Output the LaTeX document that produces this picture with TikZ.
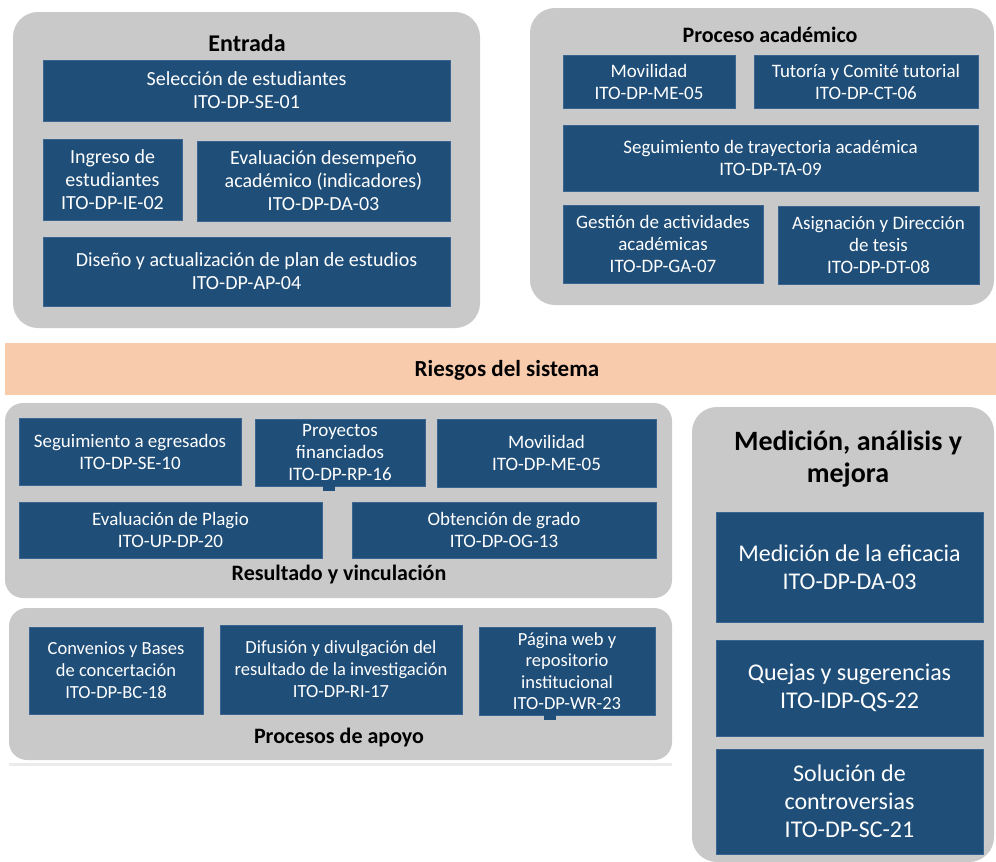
\documentclass[tikz,border=0pt]{standalone}
\usepackage{fontspec}
\setmainfont{Carlito}
\definecolor{boxblue}{HTML}{1F4E79}
\definecolor{boxedge}{HTML}{3A6590}
\definecolor{panelgray}{HTML}{C9C9C9}
\definecolor{peach}{HTML}{F8CBAD}
\definecolor{shade}{HTML}{EBEBEB}
\tikzset{
  panel/.style={rectangle, fill=panelgray, draw=none, rounded corners=#1, inner sep=0pt},
  panel/.default=25pt,
  bx/.style={rectangle, fill=boxblue, draw=boxedge, line width=0.8pt, text=white, align=center, inner sep=0pt},
  bxa/.style={bx, font=\fontsize{20}{23}\selectfont},
  bxb/.style={bx, font=\fontsize{19}{22}\selectfont},
  bxc/.style={bx, font=\fontsize{19}{22}\selectfont},
  bxe/.style={bx, font=\fontsize{18.5}{22}\selectfont},
  bxd/.style={bx, font=\fontsize{24}{28}\selectfont},
  ttl/.style={font=\bfseries\fontsize{24}{28}\selectfont, text=black, inner sep=0pt},
  ttls/.style={font=\bfseries\fontsize{22}{26}\selectfont, text=black, inner sep=0pt},
  ttlr/.style={font=\bfseries\fontsize{23}{27}\selectfont, text=black, inner sep=0pt},
  ttlb/.style={font=\bfseries\fontsize{28}{32}\selectfont, text=black, inner sep=0pt, align=center},
  tab/.style={rectangle, fill=boxblue, inner sep=0pt}
}
\begin{document}
\begin{tikzpicture}[x=1pt,y=-1pt]
\useasboundingbox (0,0) rectangle (996,862);
\fill[white] (0,0) rectangle (996,862);

% ---------- Entrada ----------
\node[panel, minimum width=467pt, minimum height=316pt] (pE) at (246.5,170) {};
\node[ttl] (tE) at (247,43) {Entrada};
\node[bxa, minimum width=407pt, minimum height=61pt] (e1) at (246.5,90.5) {Selección de estudiantes\\ITO-DP-SE-01};
\node[bxa, minimum width=139pt, minimum height=81pt] (e2) at (112.5,179.5) {Ingreso de\\estudiantes\\ITO-DP-IE-02};
\node[bxa, minimum width=253pt, minimum height=80pt] (e3) at (323.5,181) {Evaluación desempeño\\académico (indicadores)\\ITO-DP-DA-03};
\node[bxa, minimum width=407pt, minimum height=69pt] (e4) at (246.5,271.5) {Diseño y actualización de plan de estudios\\ITO-DP-AP-04};

% ---------- Proceso académico ----------
\node[panel, minimum width=464pt, minimum height=297pt] (pP) at (762,156.5) {};
\node[ttls] (tP) at (770,35) {Proceso académico};
\node[bxb, minimum width=172pt, minimum height=53pt] (p1) at (649,81.5) {Movilidad\\ITO-DP-ME-05};
\node[bxb, minimum width=224pt, minimum height=53pt] (p2) at (866,81.5) {Tutoría y Comité tutorial\\ITO-DP-CT-06};
\node[bxb, minimum width=415pt, minimum height=66pt] (p3) at (770.5,158) {Seguimiento de trayectoria académica\\ITO-DP-TA-09};
\node[bxb, minimum width=200pt, minimum height=78pt] (p4) at (663,244) {Gestión de actividades\\académicas\\ITO-DP-GA-07};
\node[bxb, minimum width=201pt, minimum height=78pt] (p5) at (878.5,245) {Asignación y Dirección\\de tesis\\ITO-DP-DT-08};

% ---------- Riesgos ----------
\node[rectangle, fill=peach, inner sep=0pt, minimum width=991pt, minimum height=52pt] (band) at (500.5,369) {};
\node[ttlr] (tR) at (507,370) {Riesgos del sistema};

% ---------- Resultado y vinculacion ----------
\node[panel=18pt, minimum width=667pt, minimum height=195pt] (pR) at (338.5,500.5) {};
\node[bxc, minimum width=222pt, minimum height=67pt] (r1) at (130,451.5) {Seguimiento a egresados\\ITO-DP-SE-10};
\node[bxc, minimum width=170pt, minimum height=67pt] (r2) at (340,452.5) {Proyectos\\financiados\\ITO-DP-RP-16};
\node[bxc, minimum width=219pt, minimum height=68pt] (r3) at (546.5,453) {Movilidad\\ITO-DP-ME-05};
\node[bxc, minimum width=303pt, minimum height=56pt] (r4) at (170.5,530) {Evaluación de Plagio\\ITO-UP-DP-20};
\node[bxc, minimum width=304pt, minimum height=56pt] (r5) at (504,530) {Obtención de grado\\ITO-DP-OG-13};
\node[tab, minimum width=12pt, minimum height=5pt] (r2tab) at (329,488) {};
\node[ttls] (tRV) at (339,575) {Resultado y vinculación};

% ---------- Procesos de apoyo ----------
\node[rectangle, fill=shade, inner sep=0pt, minimum width=663pt, minimum height=3pt] (shA) at (340.5,764) {};
\node[panel=18pt, minimum width=663pt, minimum height=152pt] (pA) at (340.5,684) {};
\node[bxe, minimum width=174pt, minimum height=87pt] (a1) at (116,670.5) {Convenios y Bases\\de concertación\\ITO-DP-BC-18};
\node[bxe, minimum width=242pt, minimum height=89pt] (a2) at (341,669.5) {Difusión y divulgación del\\resultado de la investigación\\ITO-DP-RI-17};
\node[bxe, minimum width=176pt, minimum height=88pt, font=\fontsize{18.5}{21.5}\selectfont] (a3) at (567,671) {Página web y\\repositorio\\institucional\\ITO-DP-WR-23};
\node[tab, minimum width=12pt, minimum height=5pt] (a3tab) at (550,717) {};
\node[ttls] (tA) at (339,738) {Procesos de apoyo};

% ---------- Medicion ----------
\node[panel, minimum width=302pt, minimum height=455pt] (pM) at (843,634.5) {};
\node[ttlb] (tM) at (848,459) {Medición, análisis y\\mejora};
\node[bxd, minimum width=267pt, minimum height=110pt] (m1) at (849.5,567) {Medición de la eficacia\\ITO-DP-DA-03};
\node[bxd, minimum width=267pt, minimum height=96pt] (m2) at (849.5,688) {Quejas y sugerencias\\ITO-IDP-QS-22};
\node[bxd, minimum width=267pt, minimum height=105pt] (m3) at (849.5,801.5) {Solución de\\controversias\\ITO-DP-SC-21};
\end{tikzpicture}
\end{document}
